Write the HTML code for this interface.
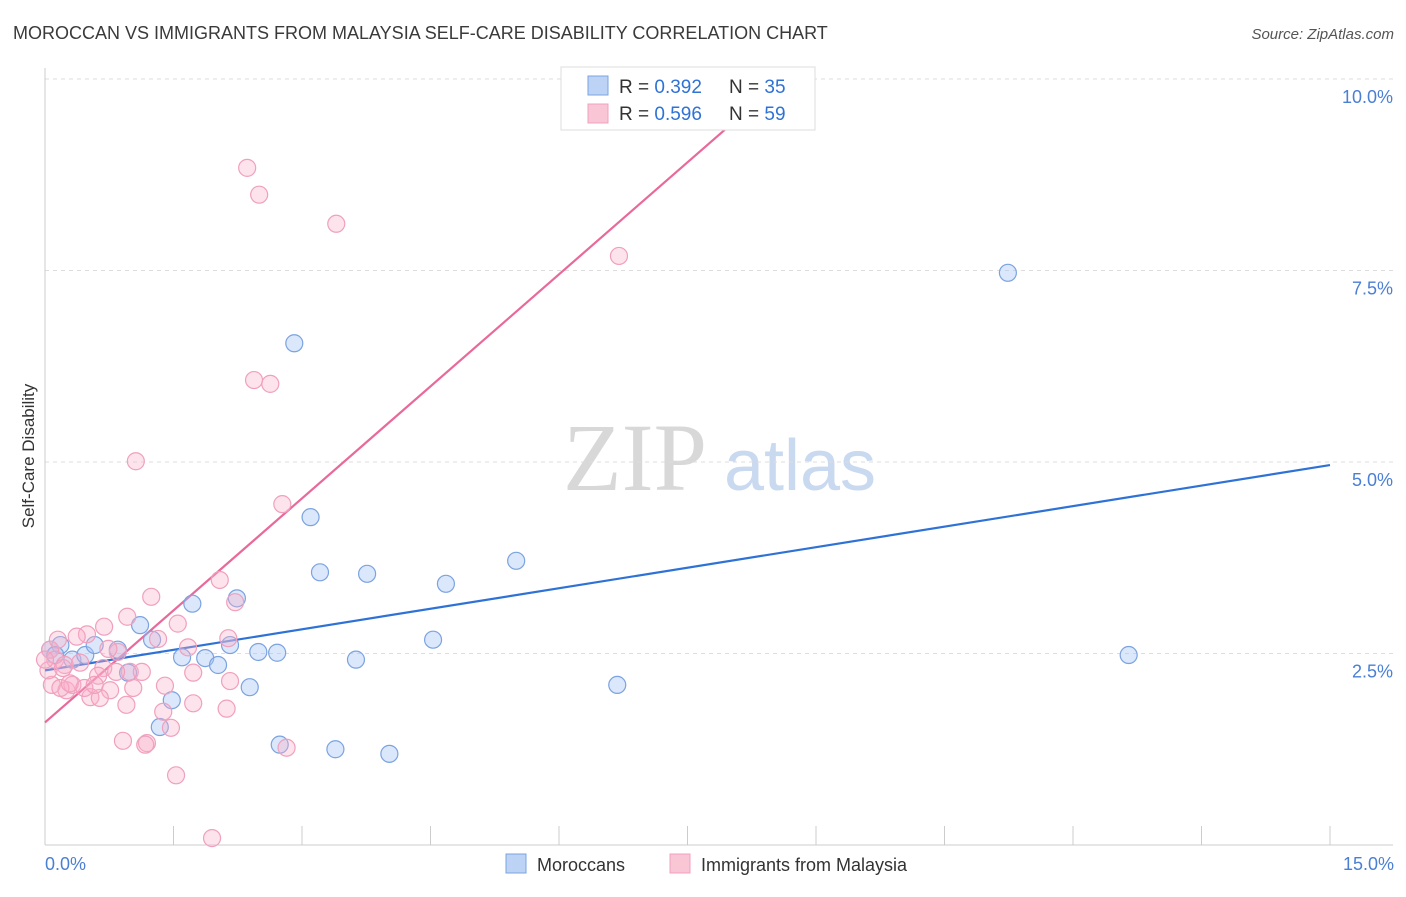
<!DOCTYPE html>
<html><head><meta charset="utf-8"><style>
body{margin:0;background:#fff;font-family:"Liberation Sans",sans-serif;}
</style></head><body>
<svg id="chart" width="1406" height="892" xmlns="http://www.w3.org/2000/svg" font-family="Liberation Sans, sans-serif">
<text x="13" y="39" font-size="18" fill="#3a3a3a">MOROCCAN VS IMMIGRANTS FROM MALAYSIA SELF-CARE DISABILITY CORRELATION CHART</text>
<text x="1394" y="39" font-size="15" fill="#555" text-anchor="end" font-style="italic">Source: ZipAtlas.com</text>
<g>
<text x="635" y="490" font-size="96" fill="#d8d8d8" font-family="Liberation Serif, serif" text-anchor="middle">ZIP</text>
<text x="800" y="490" font-size="72" fill="#c9d9ef" text-anchor="middle">atlas</text>
</g>
<g id="grid"></g>
<g id="axes"></g>
<g id="lines"></g>
<g id="points"></g>
<text transform="translate(34,456) rotate(-90)" font-size="17" fill="#333" text-anchor="middle">Self-Care Disability</text>
<text x="45" y="870" font-size="18" fill="#4a7fd4">0.0%</text>
<text x="1394" y="870" font-size="18" fill="#4a7fd4" text-anchor="end">15.0%</text>
<g>
<rect x="561" y="67" width="254" height="63" fill="#fff" stroke="#ddd"/>
<rect x="588" y="76" width="20" height="19" fill="#bcd3f5" stroke="#7ba3e0"/>
<rect x="588" y="104" width="20" height="19" fill="#f9c6d6" stroke="#f0a0bd"/>
<text x="619" y="93" font-size="19" fill="#333">R = <tspan fill="#2f72d6">0.392</tspan></text>
<text x="729" y="93" font-size="19" fill="#333">N = <tspan fill="#2f72d6">35</tspan></text>
<text x="619" y="120" font-size="19" fill="#333">R = <tspan fill="#2f72d6">0.596</tspan></text>
<text x="729" y="120" font-size="19" fill="#333">N = <tspan fill="#2f72d6">59</tspan></text>
</g>
<g>
<rect x="506" y="854" width="20" height="19" fill="#bcd3f5" stroke="#7ba3e0"/>
<text x="537" y="871" font-size="18" fill="#333">Moroccans</text>
<rect x="670" y="854" width="20" height="19" fill="#f9c6d6" stroke="#f0a0bd"/>
<text x="701" y="871" font-size="18" fill="#333">Immigrants from Malaysia</text>
</g>
</svg>
<script>
const yTicks=[2.5,5,7.5,10];
const yTickLabels=["2.5%","5.0%","7.5%","10.0%"];
const xTicks=[0,1.5,3,4.5,6,7.5,9,10.5,12,13.5,15];
const moroccoX=[0.18,0.06,0.12,0.32,0.47,0.58,0.85,0.97,1.11,1.25,1.34,1.48,1.60,1.72,1.87,2.02,2.16,2.24,2.39,2.49,2.71,2.74,2.91,3.10,3.21,3.39,3.63,3.76,4.02,4.53,4.68,5.50,6.68,11.24,12.65];
const moroccoY=[2.61,2.55,2.48,2.42,2.48,2.61,2.55,2.25,2.87,2.68,1.54,1.89,2.45,3.15,2.44,2.35,2.61,3.22,2.06,2.52,2.51,1.31,6.55,4.28,3.56,1.25,2.42,3.54,1.19,2.68,3.41,3.71,2.09,7.47,2.48];
const malaysiaX=[2.36,2.50,3.40,6.70,2.44,2.63,1.06,2.77,2.04,1.24,2.22,0.96,1.55,0.69,0.49,0.37,1.32,2.14,1.67,0.85,0.06,0.12,0.23,0.41,0.68,0.99,1.13,1.73,0.62,2.16,0.08,0.25,0.32,0.18,0.76,1.03,1.40,0.53,0.64,0.95,1.73,1.38,2.12,1.47,0.91,1.19,1.17,2.82,1.53,1.95,0.04,0.29,0.46,0.58,0.83,0.74,0.21,0.15,0.0];
const malaysiaY=[8.84,8.49,8.11,7.69,6.07,6.02,5.01,4.45,3.46,3.24,3.17,2.98,2.89,2.85,2.75,2.72,2.69,2.70,2.58,2.52,2.55,2.42,2.35,2.38,2.31,2.26,2.26,2.25,2.21,2.14,2.09,2.02,2.09,2.05,2.02,2.05,2.08,1.93,1.92,1.83,1.85,1.74,1.78,1.53,1.36,1.33,1.31,1.27,0.91,0.09,2.28,2.11,2.05,2.09,2.26,2.56,2.31,2.68,2.42];
const moroccoLine=[[0,2.28],[15,4.96]];
const malaysiaLine=[[0,1.6],[8.0,9.4]];
const NS="http://www.w3.org/2000/svg";
const X=v=>45+v*(1330-45)/15;
const Y=v=>845-v*76.6;
function mk(tag,attrs,parent){const e=document.createElementNS(NS,tag);for(const k in attrs)e.setAttribute(k,attrs[k]);parent.appendChild(e);return e;}
const gridG=document.getElementById('grid'),axesG=document.getElementById('axes');
yTicks.forEach((t,i)=>{
 const l=mk('line',{x1:45,x2:1393,y1:Y(t),y2:Y(t),stroke:'#ddd','stroke-dasharray':'4,4'},gridG);
 
 
 const tx=mk('text',{x:1393,y:Y(t)+24,'font-size':18,fill:'#4a7fd4','text-anchor':'end'},axesG);
 tx.textContent=yTickLabels[i];
 
 
});
const topGrid=mk('line',{x1:45,x2:1393,y1:79,y2:79,stroke:'#ddd','stroke-dasharray':'4,4'},gridG);


const ya=mk('line',{x1:45,x2:45,y1:68,y2:845,stroke:'#ccc'},axesG);


const xa=mk('line',{x1:45,x2:1393,y1:845,y2:845,stroke:'#ccc'},axesG);


xTicks.forEach(t=>{
 const l=mk('line',{x1:X(t),x2:X(t),y1:826,y2:845,stroke:'#ccc'},axesG);
 
 
});
const ptsG=document.getElementById('points');
function drawPts(xs,ys,fill,stroke,name){
 xs.forEach((x,i)=>{
  const c=mk('circle',{cx:X(x),cy:Y(ys[i]),r:8.5,fill:fill,stroke:stroke,'stroke-width':1.2},ptsG);
  
  
 });
}
drawPts(moroccoX,moroccoY,'rgba(164,194,244,0.4)','#7ba3e0','moroccan-point');
drawPts(malaysiaX,malaysiaY,'rgba(248,176,200,0.35)','#f0a0bd','malaysia-point');
const linesG=document.getElementById('lines');
const bl=mk('line',{x1:X(moroccoLine[0][0]),y1:Y(moroccoLine[0][1]),x2:X(moroccoLine[1][0]),y2:Y(moroccoLine[1][1]),stroke:'#2f72d6','stroke-width':2.2},linesG);


const pl=mk('line',{x1:X(malaysiaLine[0][0]),y1:Y(malaysiaLine[0][1]),x2:X(malaysiaLine[1][0]),y2:Y(malaysiaLine[1][1]),stroke:'#e8699a','stroke-width':2.2},linesG);


</script>
</body></html>
